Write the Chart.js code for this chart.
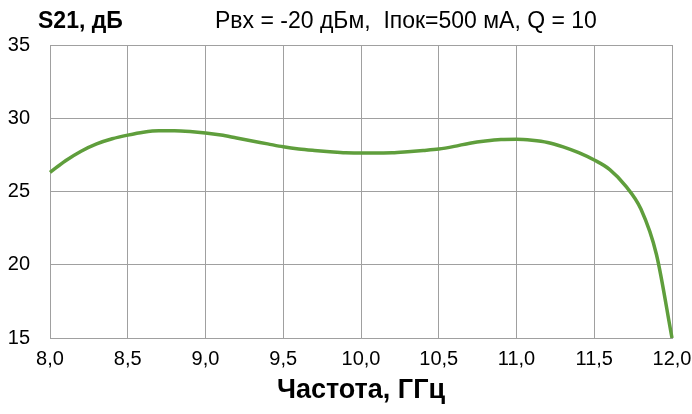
<!DOCTYPE html>
<html>
<head>
<meta charset="utf-8">
<script src="https://cdn.jsdelivr.net/npm/chart.js@4"></script>
<style>
html,body{margin:0;padding:0;background:#fff;}
#wrap{width:692px;height:414px;position:relative;}
</style>
</head>
<body>
<div id="wrap"><canvas id="c" width="692" height="414"></canvas></div>
<script>
const frequencies = [8.0,8.1,8.2,8.3,8.4,8.5,8.6,8.7,8.8,8.9,9.0,9.1,9.2,9.3,9.4,9.5,9.6,9.7,9.8,9.9,10.0,10.1,10.2,10.3,10.4,10.5,10.6,10.7,10.8,10.9,11.0,11.1,11.2,11.3,11.4,11.5,11.6,11.7,11.8,11.9,12.0];
const s21Values = [26.3,27.1,27.75,28.25,28.6,28.85,29.05,29.15,29.15,29.1,29.0,28.85,28.65,28.45,28.25,28.05,27.9,27.8,27.72,27.65,27.62,27.62,27.65,27.72,27.8,27.9,28.08,28.3,28.45,28.55,28.57,28.5,28.35,28.05,27.65,27.15,26.5,25.4,23.8,20.7,15.0];
const xTicks = [8.0,8.5,9.0,9.5,10.0,10.5,11.0,11.5,12.0];
const yTicks = [15,20,25,30,35];
const yAxisLabel = 'S21, дБ';
const headerText = 'Рвх = -20 дБм,  Iпок=500 мА, Q = 10';
const xAxisLabel = 'Частота, ГГц';

const FONT = '"Liberation Sans", Arial, sans-serif';

const textPlugin = {
  id: 'texts',
  afterDraw(chart) {
    const ctx = chart.ctx;
    const area = chart.chartArea;
    ctx.save();
    ctx.fillStyle = '#000';
    ctx.textBaseline = 'middle';
    ctx.textAlign = 'left';
    ctx.font = 'bold 23px ' + FONT;
    ctx.fillText(yAxisLabel, 38, 22);
    ctx.font = '23px ' + FONT;
    ctx.fillText(headerText, 215, 22);
    ctx.textAlign = 'center';
    ctx.font = 'bold 27px ' + FONT;
    ctx.fillText(xAxisLabel, (area.left + area.right) / 2, 391);
    ctx.restore();
  }
};

new Chart(document.getElementById('c'), {
  type: 'line',
  data: {
    datasets: [{
      data: frequencies.map((f, i) => ({x: f, y: s21Values[i]})),
      borderColor: '#5f9e3c',
      borderWidth: 3.5,
      pointRadius: 0,
      tension: 0.4,
      cubicInterpolationMode: 'monotone',
      fill: false,
      clip: 4
    }]
  },
  options: {
    responsive: false,
    animation: false,
    devicePixelRatio: 1,
    layout: { padding: { top: 45, right: 20, bottom: 0, left: 0 } },
    plugins: { legend: { display: false }, tooltip: { enabled: false } },
    scales: {
      x: {
        type: 'linear',
        min: 8, max: 12,
        afterBuildTicks(scale) { scale.ticks = xTicks.map(v => ({value: v})); },
        afterFit(scale) { scale.height = 76; scale.paddingRight = 0; scale.paddingLeft = 0; },
        ticks: {
          callback: v => v.toFixed(1).replace('.', ','),
          color: '#000',
          font: { family: FONT, size: 20 },
          padding: 9,
          maxRotation: 0,
          autoSkip: false
        },
        grid: { color: '#a0a0a0', lineWidth: 1, drawTicks: false },
        border: { color: '#a0a0a0', width: 1 }
      },
      y: {
        min: 15, max: 35,
        afterBuildTicks(scale) { scale.ticks = yTicks.map(v => ({value: v})); },
        afterFit(scale) { scale.width = 50; scale.paddingTop = 0; scale.paddingBottom = 0; },
        ticks: {
          color: '#000',
          font: { family: FONT, size: 20 },
          padding: 20
        },
        grid: { color: '#a0a0a0', lineWidth: 1, drawTicks: false },
        border: { color: '#a0a0a0', width: 1 }
      }
    }
  },
  plugins: [textPlugin]
});
</script>
</body>
</html>
